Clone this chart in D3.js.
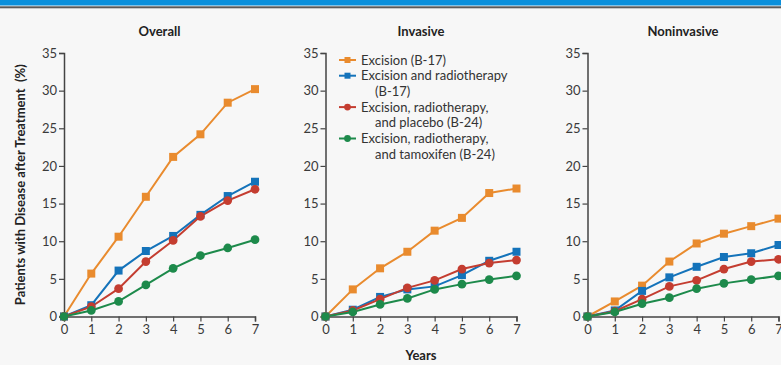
<!DOCTYPE html>
<meta charset="utf-8">
<script src="https://cdn.jsdelivr.net/npm/d3@7"></script>
<style>
body { margin: 0; background: #f7f7f7; }
text { font-family: Lato, "Open Sans", sans-serif; fill: #333; }
.tick text { font-size: 13px; fill: #3a3a3a; }
.title { font-size: 13px; font-weight: 700; fill: #222; }
.legend text { font-size: 13px; fill: #333; }
</style>
<body>
<script>

var years = [0, 1, 2, 3, 4, 5, 6, 7];
var yTicks = [0, 5, 10, 15, 20, 25, 30, 35];

var panels = ["Overall", "Invasive", "Noninvasive"];

var seriesNames = [
  ["Excision (B-17)"],
  ["Excision and radiotherapy", "(B-17)"],
  ["Excision, radiotherapy,", "and placebo (B-24)"],
  ["Excision, radiotherapy,", "and tamoxifen (B-24)"]
];
var seriesColors = ["#e98b2e", "#1473ba", "#c43d30", "#1d8a4b"];
var seriesShapes = ["square", "square", "circle", "circle"];

// values per panel, one list per series
var overall = [
  [0, 5.7, 10.6, 15.9, 21.2, 24.2, 28.4, 30.2],
  [0, 1.5, 6.1, 8.7, 10.7, 13.5, 16.0, 17.9],
  [0, 1.3, 3.7, 7.3, 10.1, 13.3, 15.4, 16.9],
  [0, 0.8, 2.0, 4.2, 6.4, 8.1, 9.1, 10.2]
];
var invasive = [
  [0, 3.6, 6.4, 8.6, 11.4, 13.1, 16.4, 17.0],
  [0, 0.9, 2.6, 3.6, 4.0, 5.5, 7.4, 8.6],
  [0, 0.8, 2.3, 3.8, 4.8, 6.3, 7.1, 7.5],
  [0, 0.6, 1.6, 2.4, 3.6, 4.3, 4.9, 5.4]
];
var noninvasive = [
  [0, 2.0, 4.1, 7.3, 9.7, 11.0, 12.0, 13.0],
  [0, 0.8, 3.4, 5.2, 6.6, 7.9, 8.4, 9.5],
  [0, 0.7, 2.3, 4.0, 4.8, 6.3, 7.3, 7.6],
  [0, 0.6, 1.7, 2.5, 3.7, 4.4, 4.9, 5.4]
];
var panelData = [overall, invasive, noninvasive];

var width = 781, height = 365;

var svg = d3.select("body").append("svg")
    .attr("width", width)
    .attr("height", height);

// header rules
svg.append("rect").attr("x", 0).attr("y", 0).attr("width", width).attr("height", 5.5).attr("fill", "#0b90dc");
svg.append("rect").attr("x", 0).attr("y", 6.3).attr("width", width).attr("height", 2).attr("fill", "#5a5a5a");

var y = d3.scaleLinear().domain([0, 35]).range([316.5, 53]);
var panelLeft = [64, 325.5, 587.5];
var plotW = 191;

panelData.forEach(function(data, p) {
  var x = d3.scaleLinear().domain([0, 7]).range([panelLeft[p], panelLeft[p] + plotW]);
  var g = svg.append("g");

  g.append("text").attr("class", "title")
      .attr("x", panelLeft[p] + plotW / 2).attr("y", 36)
      .attr("text-anchor", "middle")
      .text(panels[p]);

  var yAxis = g.append("g")
      .attr("transform", "translate(" + panelLeft[p] + ",0)")
      .call(d3.axisLeft(y).tickValues(yTicks).tickFormat(d3.format("d")).tickSize(5).tickPadding(2));
  var xAxis = g.append("g")
      .attr("transform", "translate(0," + y(0) + ")")
      .call(d3.axisBottom(x).tickValues(years).tickFormat(d3.format("d")).tickSize(5).tickPadding(3));

  [yAxis, xAxis].forEach(function(a) {
    a.select(".domain").attr("stroke", "#444").attr("stroke-width", 1.5);
    a.selectAll(".tick line").attr("stroke", "#444").attr("stroke-width", 1.2);
  });

  var line = d3.line().x(function(d, i) { return x(years[i]); }).y(function(d) { return y(d); });

  data.forEach(function(vals, s) {
    g.append("path").datum(vals)
        .attr("d", line)
        .attr("fill", "none")
        .attr("stroke", seriesColors[s])
        .attr("stroke-width", 2);
  });
  data.forEach(function(vals, s) {
    g.append("g").selectAll("path").data(vals).enter().append("path")
        .attr("transform", function(d, i) { return "translate(" + x(years[i]) + "," + y(d) + ")"; })
        .attr("fill", seriesColors[s])
        .attr("d", d3.symbol().type(seriesShapes[s] === "square" ? d3.symbolSquare : d3.symbolCircle)
            .size(seriesShapes[s] === "square" ? 64 : 60));
  });
});

// y axis label
svg.append("text").attr("class", "title")
    .attr("transform", "translate(24.5," + (y(0) + y(35)) / 2 + ") rotate(-90)")
    .attr("text-anchor", "middle")
    .style("white-space", "pre")
    .text("Patients with Disease after Treatment  (%)");

// x axis label
svg.append("text").attr("class", "title")
    .attr("x", panelLeft[1] + plotW / 2).attr("y", 360)
    .attr("text-anchor", "middle")
    .text("Years");

// legend
var legend = svg.append("g").attr("class", "legend");
var row = 0;
seriesNames.forEach(function(lines, s) {
  var ly = 60 + row * 15.7;
  legend.append("line")
      .attr("x1", 339).attr("x2", 356).attr("y1", ly).attr("y2", ly)
      .attr("stroke", seriesColors[s]).attr("stroke-width", 2);
  legend.append("path")
      .attr("transform", "translate(347.5," + ly + ")")
      .attr("fill", seriesColors[s])
      .attr("d", d3.symbol().type(seriesShapes[s] === "square" ? d3.symbolSquare : d3.symbolCircle).size(36));
  lines.forEach(function(t, k) {
    legend.append("text")
        .attr("x", k === 0 ? 361 : 375)
        .attr("y", ly + k * 15.7 + 4.5)
        .text(t);
  });
  row += lines.length;
});

</script>
</body>
